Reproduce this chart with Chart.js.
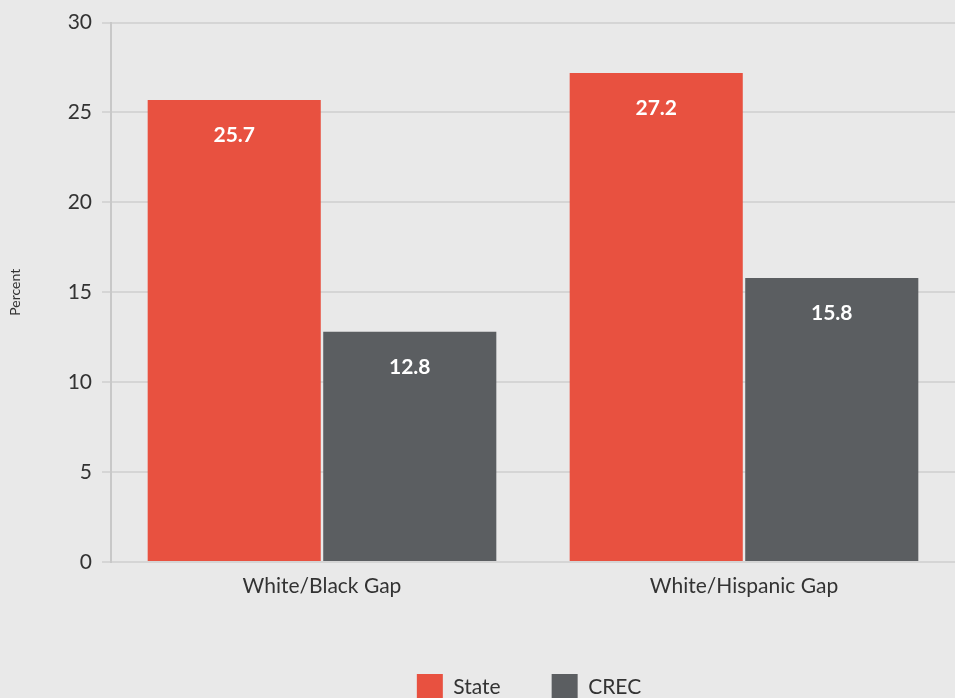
<!DOCTYPE html>
<html lang="en">
  <head>
    <meta charset="UTF-8" />
    <title>Achievement gaps</title>
    <script src="https://cdn.jsdelivr.net/npm/chart.js@4"></script>
    <style>
      html, body { margin: 0; padding: 0; background: #e9e9e9; }
      #wrap { width: 955px; height: 698px; position: relative; }
    </style>
  </head>
  <body>
    <div id="wrap">
      <canvas id="myChart"></canvas>
    </div>
    <script>
      const categories = ['White/Black Gap', 'White/Hispanic Gap'];
      const stateValues = [25.7, 27.2];
      const crecValues = [12.8, 15.8];
      const yTicks = [0, 5, 10, 15, 20, 25, 30];

      const fontFamily = 'Lato, "Open Sans", sans-serif';

      // white value labels inside the top of each bar
      const barLabels = {
        id: 'barLabels',
        afterDatasetsDraw(chart) {
          const ctx = chart.ctx;
          ctx.save();
          ctx.fillStyle = '#ffffff';
          ctx.font = 'bold 21px ' + fontFamily;
          ctx.textAlign = 'center';
          ctx.textBaseline = 'middle';
          chart.data.datasets.forEach((ds, i) => {
            chart.getDatasetMeta(i).data.forEach((bar, j) => {
              ctx.fillText(ds.data[j].toFixed(1), bar.x, bar.y + 35);
            });
          });
          ctx.restore();
        }
      };

      // center the legend under the plot area rather than the whole canvas
      const legendUnderPlot = {
        id: 'legendUnderPlot',
        afterLayout(chart) {
          if (chart.legend) {
            chart.legend.left = chart.chartArea.left - 4;
            chart.legend.right = chart.chartArea.right - 4;
          }
        }
      };

      const ctx = document.getElementById('myChart').getContext('2d');
      const myChart = new Chart(ctx, {
        type: 'bar',
        data: {
          labels: categories,
          datasets: [
            {
              label: 'State',
              data: stateValues,
              backgroundColor: '#e85140',
              borderWidth: 0,
              categoryPercentage: 0.832,
              barPercentage: 0.986
            },
            {
              label: 'CREC',
              data: crecValues,
              backgroundColor: '#5b5e61',
              borderWidth: 0,
              categoryPercentage: 0.832,
              barPercentage: 0.986
            }
          ]
        },
        options: {
          responsive: true,
          maintainAspectRatio: false,
          animation: false,
          layout: { padding: { top: 21, right: 0, left: 0, bottom: -12 } },
          plugins: {
            tooltip: { enabled: false },
            legend: {
              position: 'bottom',
              labels: {
                boxWidth: 26,
                boxHeight: 26,
                padding: 51,
                color: '#333333',
                font: { family: fontFamily, size: 21 }
              }
            }
          },
          scales: {
            x: {
              grid: { display: false },
              border: { display: false },
              ticks: {
                color: '#333333',
                padding: 4,
                font: { family: fontFamily, size: 21 }
              },
              afterFit(scale) { scale.height = 61; }
            },
            y: {
              min: 0,
              max: 30,
              afterBuildTicks(scale) {
                scale.ticks = yTicks.map(v => ({ value: v }));
              },
              grid: {
                color: '#d5d5d5',
                lineWidth: 2,
                tickLength: 9,
                tickColor: '#d5d5d5'
              },
              border: { display: true, color: '#c8c8c8', width: 2 },
              ticks: {
                color: '#333333',
                padding: 10,
                font: { family: fontFamily, size: 21 }
              },
              title: {
                display: true,
                text: 'Percent',
                color: '#333333',
                padding: { top: 7, bottom: 1 },
                font: { family: fontFamily, size: 14 }
              },
              afterFit(scale) { scale.width = 111; }
            }
          }
        },
        plugins: [barLabels, legendUnderPlot]
      });
    </script>
  </body>
</html>
